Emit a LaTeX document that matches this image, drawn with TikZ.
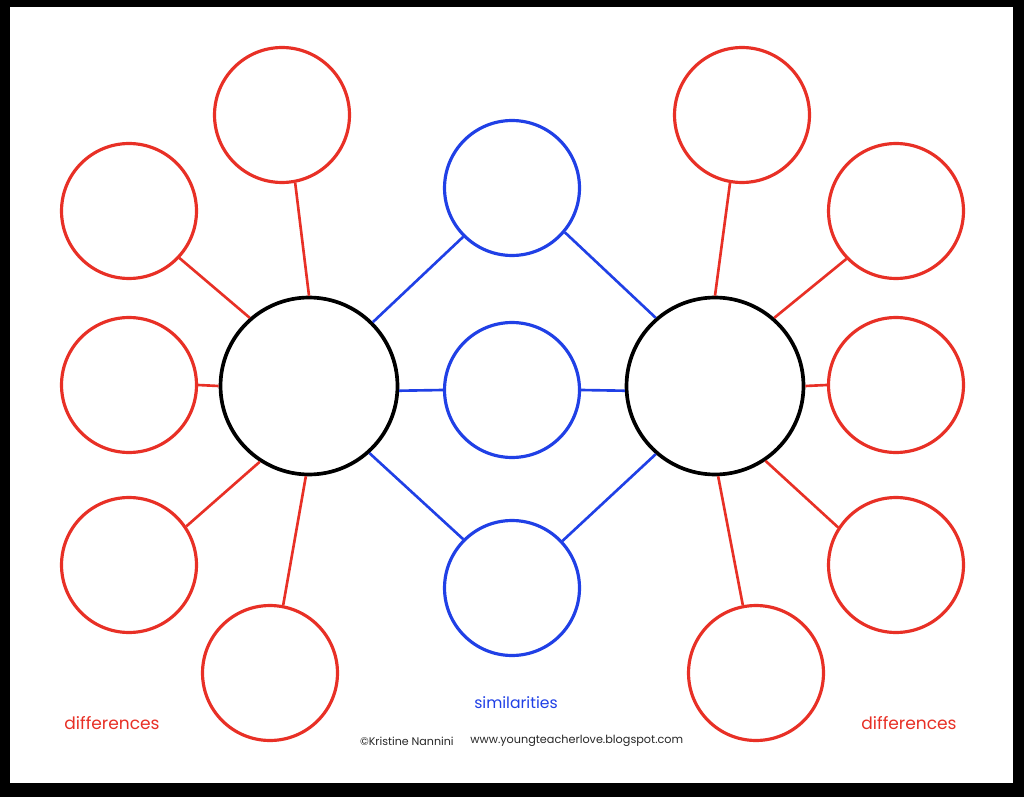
\documentclass[tikz,border=0pt]{standalone}
\usepackage{fontspec}
\setmainfont{Poppins}
\usepackage{xcolor}
\usepackage{tikz}
\definecolor{difred}{RGB}{232,48,38}
\definecolor{simblue}{RGB}{32,64,230}
\definecolor{credit}{RGB}{40,40,40}

\begin{document}
\begin{tikzpicture}[x=0.02cm, y=-0.02cm,
  diff/.style={circle, draw=difred, line width=1.8pt, minimum size=2.7cm, inner sep=0pt},
  sim/.style={circle, draw=simblue, line width=1.8pt, minimum size=2.7cm, inner sep=0pt},
  topic/.style={circle, draw=black, line width=2.1pt, minimum size=3.54cm, inner sep=0pt},
  redline/.style={difred, line width=1.5pt},
  blueline/.style={simblue, line width=1.5pt}]
  % moldura
  \useasboundingbox (0,0) rectangle (1024,797);
  \fill[black] (0,0) rectangle (1024,797);
  \fill[white] (10,7) rectangle (1013,783);
  % circulos centrais
  \node[topic] (ctrL) at (309,386) {};
  \node[topic] (ctrR) at (715,386) {};
  % semelhancas
  \node[sim] (simT) at (512,188) {};
  \node[sim] (simM) at (512,390) {};
  \node[sim] (simB) at (512,588) {};
  % diferencas, lado esquerdo
  \node[diff] (difL1) at (282,115) {};
  \node[diff] (difL2) at (129,211) {};
  \node[diff] (difL3) at (129,385) {};
  \node[diff] (difL4) at (129,565) {};
  \node[diff] (difL5) at (270,673) {};
  % diferencas, lado direito
  \node[diff] (difR1) at (742,115) {};
  \node[diff] (difR2) at (896,211) {};
  \node[diff] (difR3) at (896,385) {};
  \node[diff] (difR4) at (896,565) {};
  \node[diff] (difR5) at (756,673) {};
  % ligacoes vermelhas
  \draw[redline] (difL1.-79) -- (ctrL.90);
  \draw[redline] (difL2.-43) -- (ctrL.131);
  \draw[redline] (difL3.0) -- (ctrL.180);
  \draw[redline] (difL4.34) -- (ctrL.237);
  \draw[redline] (difL5.79) -- (ctrL.268);
  \draw[redline] (difR1.-100) -- (ctrR.90);
  \draw[redline] (difR2.224) -- (ctrR.49);
  \draw[redline] (difR3.180) -- (ctrR.0);
  \draw[redline] (difR4.147) -- (ctrR.-56);
  \draw[redline] (difR5.101) -- (ctrR.-88);
  % ligacoes azuis
  \draw[blueline] (ctrL.45) -- (simT.225);
  \draw[blueline] (simT.-40) -- (ctrR.131);
  \draw[blueline] (ctrL.-3) -- (simM.180);
  \draw[blueline] (simM.0) -- (ctrR.-177);
  \draw[blueline] (ctrL.-48) -- (simB.135);
  \draw[blueline] (simB.43) -- (ctrR.229);
  % legendas
  \node[difred, font=\fontsize{9.7}{12}\selectfont] (labL) at (112,723) {differences};
  \node[difred, font=\fontsize{9.7}{12}\selectfont] (labR) at (909,723) {differences};
  \node[simblue, font=\fontsize{8.9}{11}\selectfont] (labS) at (516,703) {similarities};
  \node[credit, font=\fontsize{6.3}{8}\selectfont, anchor=east, inner sep=0pt] (author) at (454,741) {©Kristine Nannini};
  \node[credit, font=\fontsize{6.4}{8}\selectfont, anchor=west, inner sep=0pt] (site) at (470,741) {www.youngteacherlove.blogspot.com};
\end{tikzpicture}
\end{document}
